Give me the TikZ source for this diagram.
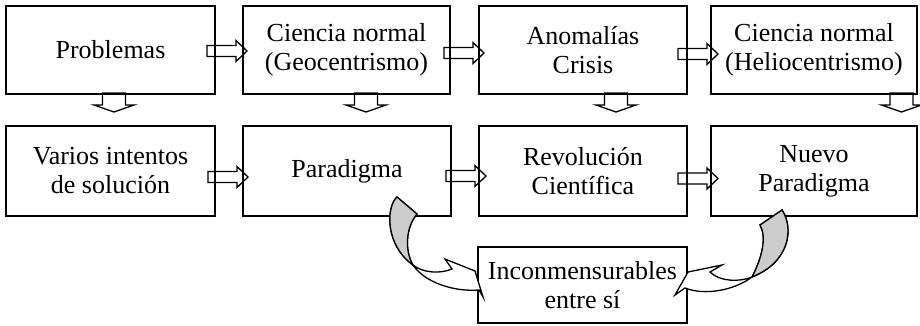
\documentclass[tikz,border=0pt]{standalone}
\usepackage{fontspec}
\setmainfont{Liberation Serif}
\usetikzlibrary{calc}
\begin{document}
\begin{tikzpicture}[x=1bp,y=-1bp,
  box/.style={draw,line width=1.8bp,inner sep=0pt,align=center,
    font=\fontsize{26bp}{29bp}\selectfont},
  frame/.style={inner sep=0pt,outer sep=0pt},
  blk/.style={draw,line width=1.3bp,fill=white,line join=miter},
  curv/.style={draw,line width=1.3bp,fill=white,line join=miter},
  back/.style={draw,line width=1.3bp,fill=black!20,line join=miter},
  harrow/.pic={\path[blk] (0,-5.5) -- (29,-5.5) -- (29,-10.5) -- (40,0) -- (29,10.5) -- (29,5.5) -- (0,5.5) -- cycle;},
  darrow/.pic={\path[blk] (-11.5,0) -- (11.5,0) -- (11.5,12) -- (20,12) -- (0,19) -- (-20,12) -- (-11.5,12) -- cycle;}
  ]
\useasboundingbox (0,0) rectangle (920,325);
% coordinates for the boxes
\coordinate (c1) at (110.5,50);
\coordinate (c2) at (346.5,50);
\coordinate (c3) at (583,50);
\coordinate (c4) at (814,50);
\coordinate (c5) at (110.5,171);
\coordinate (c6) at (347,171);
\coordinate (c7) at (583,171);
\coordinate (c8) at (814,171);
\coordinate (c9) at (582.5,285);
% invisible box frames for anchoring
\path node[frame,minimum width=209bp,minimum height=88bp] (f1) at (c1) {}
      node[frame,minimum width=207bp,minimum height=88bp] (f2) at (c2) {}
      node[frame,minimum width=208bp,minimum height=88bp] (f3) at (c3) {}
      node[frame,minimum width=206bp,minimum height=88bp] (f4) at (c4) {}
      node[frame,minimum width=209bp,minimum height=90bp] (f5) at (c5) {}
      node[frame,minimum width=208bp,minimum height=90bp] (f6) at (c6) {}
      node[frame,minimum width=208bp,minimum height=90bp] (f7) at (c7) {}
      node[frame,minimum width=206bp,minimum height=90bp] (f8) at (c8) {};
% block arrows (behind the boxes)
\pic at ($(f1.east)+(-8,1)$) {harrow};
\pic at ($(f2.east)+(-6,3)$) {harrow};
\pic at ($(f3.east)+(-9,4)$) {harrow};
\pic at ($(f5.east)+(-7,6)$) {harrow};
\pic at ($(f6.east)+(-5,5)$) {harrow};
\pic at ($(f7.east)+(-9,7.5)$) {harrow};
\pic at ($(f1.south)+(3.5,-1)$) {darrow};
\pic at ($(f2.south)+(19.5,-1)$) {darrow};
\pic at ($(f3.south)+(33,-1)$) {darrow};
\pic at ($(f4.south)+(87.5,-1)$) {darrow};
% boxes
\node[box,minimum width=209bp,minimum height=88bp] (b1) at (c1) {Problemas};
\node[box,minimum width=207bp,minimum height=88bp] (b2) at (c2) {Ciencia normal\\(Geocentrismo)};
\node[box,minimum width=208bp,minimum height=88bp] (b3) at (c3) {Anomalías\\Crisis};
\node[box,minimum width=206bp,minimum height=88bp] (b4) at (c4) {Ciencia normal\\(Heliocentrismo)};
\node[box,minimum width=209bp,minimum height=90bp] (b5) at (c5) {Varios intentos\\de solución};
\node[box,minimum width=208bp,minimum height=90bp] (b6) at (c6) {Paradigma};
\node[box,minimum width=208bp,minimum height=90bp] (b7) at (c7) {Revolución\\Científica};
\node[box,minimum width=206bp,minimum height=90bp] (b8) at (c8) {Nuevo\\Paradigma};
\node[box,minimum width=209bp,minimum height=76bp] (b9) at (c9) {Inconmensurables\\entre sí};
% curved arrow from Paradigma
\path[curv] (397,197) .. controls (386,207) and (385,245) .. (413,265)
  .. controls (425,283) and (455,292) .. (479,290) -- (483,297) -- (475,271)
  -- (445,259) -- (452,269) .. controls (440,274) and (423,273) .. (413,265)
  .. controls (405,252) and (405,228) .. (417,214) -- cycle;
\path[back] (397,197) .. controls (386,207) and (385,245) .. (413,265)
  .. controls (405,252) and (405,228) .. (417,214) -- cycle;
% curved arrow from Nuevo Paradigma
\path[curv] (782,210) .. controls (794,228) and (790,262) .. (752,277)
  .. controls (735,290) and (705,296) .. (685,288) -- (675,295) -- (688,272)
  -- (722,265) -- (710,272) .. controls (720,282) and (740,282) .. (752,277)
  .. controls (762,258) and (767,237) .. (760,225) -- cycle;
\path[back] (782,210) .. controls (794,228) and (790,262) .. (752,277)
  .. controls (762,258) and (767,237) .. (760,225) -- cycle;
\end{tikzpicture}
\end{document}
